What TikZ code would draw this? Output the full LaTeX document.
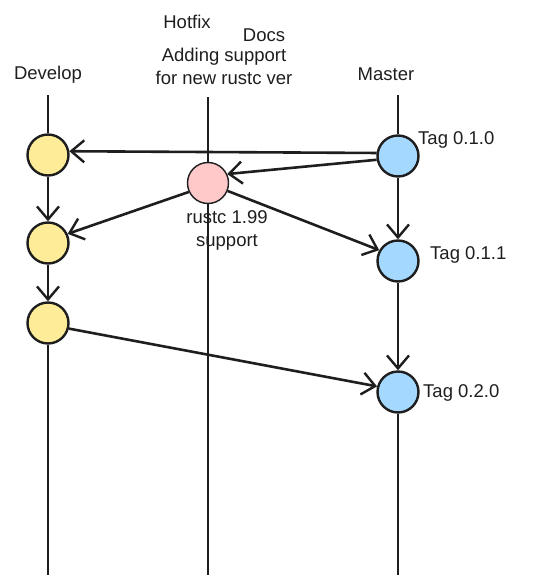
\documentclass[tikz,border=0pt]{standalone}
\usepackage{fontspec}
\setmainfont{Liberation Sans}
\usetikzlibrary{arrows.meta}
\definecolor{ink}{HTML}{1E1E1E}
\definecolor{devfill}{HTML}{FFEC99}
\definecolor{hotfill}{HTML}{FFC9C9}
\definecolor{masfill}{HTML}{A5D8FF}
\tikzset{
  commit/.style={circle, draw=ink, line width=2.4pt, minimum size=41pt, inner sep=0pt},
  dev/.style={commit, fill=devfill},
  hot/.style={commit, fill=hotfill, line width=1.4pt},
  mas/.style={commit, fill=masfill},
  lbl/.style={text=ink, font=\fontsize{18.5}{23}\selectfont, inner sep=1pt},
  flow/.style={draw=ink, line width=2.6pt, -{Straight Barb[length=13pt,width=22pt,line width=2.4pt]}},
  branch/.style={draw=ink, line width=2.8pt},
  thin/.style={draw=ink, line width=1.1pt},
}
\begin{document}
\begin{tikzpicture}[x=1pt,y=-1pt]
\useasboundingbox (0,0) rectangle (536,586);
% branch end points
\coordinate (dtop) at (48,95);
\coordinate (dbot) at (48,575);
\coordinate (htop) at (208,97);
\coordinate (hbot) at (208,575);
\coordinate (mtop) at (398,95);
\coordinate (mbot) at (398,575);
% hotfix line (behind)
\draw[thin] (htop) -- (hbot);
% commits
\node[dev] (d1) at (48,155) {};
\node[dev] (d2) at (48,243) {};
\node[dev] (d3) at (48,323) {};
\node[hot] (h1) at (208,183) {};
\node[mas] (m1) at (398,156) {};
\node[mas] (m2) at (398,261) {};
\node[mas] (m3) at (398,392) {};
% branch lines
\draw[branch] (dtop) -- (d1.north);
\draw[branch, line width=2.4pt] (d3.south) -- (dbot);
\draw[branch] (mtop) -- (m1.north);
\draw[thin, line width=1.8pt] (m3.south) -- (mbot);
% flows
\draw[flow] (d1.south) -- (d2.north);
\draw[flow] (d2.south) -- (d3.north);
\draw[flow] (m1.south) -- (m2.north);
\draw[flow] (m2.south) -- (m3.north);
\draw[flow] (m1.172) -- (d1.10);
\draw[flow] (m1.190) -- (h1.25);
\draw[flow] (h1.205) -- (d2.25);
\draw[flow] (h1.-22) -- (m2.150);
\draw[flow] (d3.-15) -- (m3.165);
% labels
\node[lbl] (ldev) at (48,75) {Develop};
\node[lbl] (lmas) at (386,74) {Master};
\node[lbl] (lhot) at (187,22) {Hotfix};
\node[lbl] (ldoc) at (264,35) {Docs};
\node[lbl, align=center] (ladd) at (224,66) {Adding support\\for new rustc ver};
\node[lbl, align=center] (lrus) at (227,230) {rustc 1.99\\support};
\node[lbl, anchor=west] (t1) at (417,140) {Tag 0.1.0};
\node[lbl, anchor=west] (t2) at (429,255) {Tag 0.1.1};
\node[lbl, anchor=west] (t3) at (422,393) {Tag 0.2.0};
\end{tikzpicture}
\end{document}
